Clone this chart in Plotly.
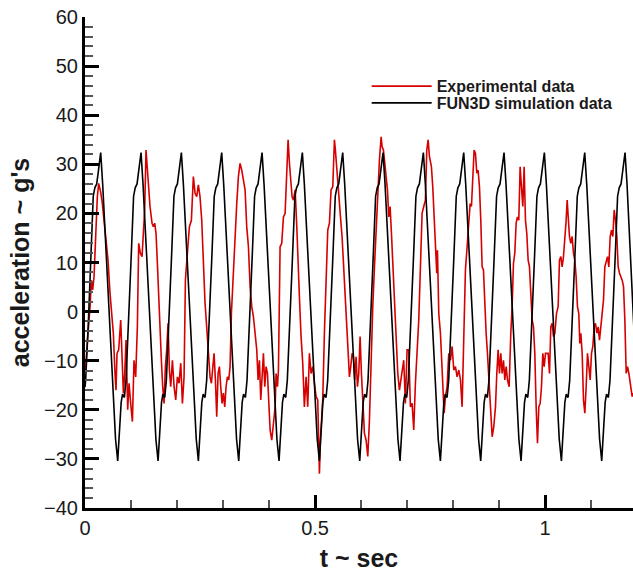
import plotly.graph_objects as go

# experimental accelerometer trace
exp_t = [
    0.0, 0.0014, 0.0065, 0.011, 0.0138, 0.0167, 0.0196, 0.0232, 0.0268, 0.0297,
    0.034, 0.0377, 0.0413, 0.0464, 0.05, 0.0544, 0.058, 0.0616, 0.0652, 0.0674,
    0.0696, 0.0732, 0.0776, 0.0805, 0.0834, 0.0863, 0.0892, 0.0928, 0.0957, 0.0993,
    0.103, 0.1065, 0.1102, 0.1138, 0.1167, 0.1203, 0.124, 0.1268, 0.1297, 0.1326,
    0.1355, 0.1384, 0.1413, 0.1457, 0.1486, 0.1515, 0.1544, 0.1573, 0.1602, 0.1631,
    0.166, 0.1689, 0.1718, 0.1747, 0.1776, 0.1805, 0.1834, 0.1863, 0.19, 0.1936,
    0.1972, 0.2008, 0.2044, 0.2081, 0.2117, 0.2153, 0.2182, 0.2225, 0.2269, 0.2312,
    0.2355, 0.2392, 0.2428, 0.2464, 0.25, 0.2537, 0.2573, 0.2609, 0.2645, 0.2682,
    0.2718, 0.2747, 0.2776, 0.2805, 0.2834, 0.2863, 0.2892, 0.2921, 0.295, 0.2979,
    0.3008, 0.3037, 0.3066, 0.3095, 0.3124, 0.3153, 0.3182, 0.3211, 0.324, 0.327,
    0.3298, 0.3334, 0.337, 0.3407, 0.3443, 0.3479, 0.3515, 0.3552, 0.3588, 0.3624,
    0.366, 0.3697, 0.3733, 0.3762, 0.3791, 0.382, 0.3849, 0.3878, 0.3907, 0.3936,
    0.3965, 0.3994, 0.4023, 0.4059, 0.4095, 0.4132, 0.4153, 0.4183, 0.4204, 0.424,
    0.4276, 0.4313, 0.4349, 0.4385, 0.4414, 0.4443, 0.4472, 0.4501, 0.453, 0.4567,
    0.4603, 0.4623, 0.466, 0.4696, 0.4732, 0.4768, 0.4805, 0.4841, 0.4877, 0.4913,
    0.495, 0.4986, 0.5022, 0.5058, 0.5095, 0.5116, 0.5145, 0.5167, 0.5203, 0.524,
    0.5276, 0.5312, 0.5348, 0.5385, 0.5421, 0.5442, 0.5471, 0.55, 0.5529, 0.5558,
    0.5587, 0.5616, 0.566, 0.5689, 0.5718, 0.5747, 0.5776, 0.5805, 0.5834, 0.5863,
    0.5892, 0.5921, 0.595, 0.5979, 0.6008, 0.6037, 0.6073, 0.6109, 0.6146, 0.6182,
    0.6218, 0.6254, 0.6291, 0.6327, 0.6363, 0.6399, 0.6436, 0.6457, 0.6486, 0.6515,
    0.6544, 0.6573, 0.6602, 0.6631, 0.666, 0.669, 0.6725, 0.6762, 0.6798, 0.6834,
    0.6891, 0.6927, 0.6963, 0.7, 0.7036, 0.7072, 0.7109, 0.7145, 0.7181, 0.7217,
    0.7254, 0.729, 0.7326, 0.7362, 0.7398, 0.7428, 0.7457, 0.7486, 0.7529, 0.7558,
    0.7587, 0.7616, 0.7645, 0.766, 0.7689, 0.7725, 0.7746, 0.7775, 0.7805, 0.7834,
    0.787, 0.7906, 0.7943, 0.7979, 0.8015, 0.8051, 0.8087, 0.8124, 0.816, 0.8196,
    0.8232, 0.8268, 0.8305, 0.8341, 0.837, 0.8399, 0.8428, 0.8457, 0.8486, 0.8515,
    0.8544, 0.8573, 0.8602, 0.8631, 0.866, 0.8689, 0.8718, 0.8747, 0.8776, 0.8812,
    0.8849, 0.8885, 0.8921, 0.895, 0.8979, 0.9008, 0.9037, 0.9066, 0.9095, 0.9124,
    0.9153, 0.9182, 0.9218, 0.9254, 0.9283, 0.9312, 0.9341, 0.937, 0.9399, 0.9428,
    0.9457, 0.9486, 0.9515, 0.9544, 0.9573, 0.9602, 0.9631, 0.966, 0.9689, 0.9718,
    0.9747, 0.9776, 0.9805, 0.9834, 0.9863, 0.9892, 0.9921, 0.995, 0.9979, 1.0008,
    1.0037, 1.0066, 1.0095, 1.0124, 1.0153, 1.0182, 1.0211, 1.0247, 1.0283, 1.0312,
    1.0341, 1.037, 1.0399, 1.0428, 1.0457, 1.0479, 1.05, 1.0529, 1.0558, 1.0587,
    1.0616, 1.0645, 1.0674, 1.0703, 1.0732, 1.0754, 1.0776, 1.0805, 1.0834, 1.0863,
    1.0892, 1.0921, 1.095, 1.0979, 1.1008, 1.1037, 1.1066, 1.1095, 1.1124, 1.1153,
    1.1182, 1.1211, 1.124, 1.1269, 1.1298, 1.1327, 1.1356, 1.1385, 1.1414, 1.1443,
    1.1472, 1.1501, 1.153, 1.1559, 1.1588, 1.1617, 1.1646, 1.1675, 1.1704, 1.1733,
    1.1762, 1.1791, 1.182, 1.1863, 1.1892, 1.1914,
]
exp_acc = [
    -12.0, -11.2, -4.4, 1.0, 6.4, 4.4, 7.1, 17.3, 23.4, 26.1,
    24.4, 22.0, 18.6, 13.9, 10.5, 3.7, 0.3, -4.4, -12.6, -16.0,
    -8.5, -7.8, -1.7, -8.5, -16.6, -12.6, -5.8, -20.0, -14.6, -18.7,
    -22.4, -9.9, -13.3, -3.1, 13.9, 11.9, 11.2, 15.9, 20.7, 32.9,
    28.8, 24.8, 21.4, 18.0, 17.3, 18.0, 15.9, 9.8, 2.4, -3.8,
    -9.9, -15.3, -18.7, -11.2, -7.8, -2.4, -11.9, -15.3, -9.9, -15.3,
    -18.0, -13.3, -14.6, -10.5, -18.7, -13.3, 6.4, 11.9, 17.3, 18.6,
    27.5, 24.1, 23.4, 25.8, 23.4, 18.6, 9.8, 1.7, -3.1, -8.5,
    -13.3, -14.6, -11.9, -8.5, -13.9, -21.4, -12.6, -11.2, -15.3, -18.7,
    -16.6, -19.4, -15.3, -13.3, -13.9, -11.2, -0.4, 5.1, 13.2, 18.6,
    22.0, 27.5, 30.2, 28.8, 26.8, 24.8, 17.3, 13.2, 5.1, 1.0,
    -1.0, -4.4, -7.8, -13.9, -9.9, -18.0, -12.6, -8.5, -15.3, -11.2,
    -12.6, -19.4, -24.1, -26.2, -23.4, -19.4, -12.6, -15.3, -11.9, 13.2,
    13.9, 19.3, 20.0, 30.2, 35.0, 30.2, 26.1, 23.4, 22.7, 24.8,
    17.3, 10.5, 3.0, -5.1, -10.5, -19.4, -13.3, -19.4, -8.5, -12.6,
    -11.2, -14.6, -17.3, -18.0, -33.0, -26.2, -22.1, -18.0, -4.4, 6.4,
    16.6, 18.0, 24.8, 25.4, 35.0, 32.9, 28.8, 26.1, 22.0, 18.6,
    15.3, 10.5, 1.0, -1.7, -7.8, -13.3, -11.2, -8.5, -9.2, -13.9,
    -9.2, -15.3, -12.6, -5.1, -12.6, -18.0, -24.8, -26.2, -29.5, -22.1,
    -8.5, 1.0, 9.1, 16.6, 24.1, 30.9, 35.6, 33.6, 32.9, 30.2,
    28.2, 24.8, 19.3, 21.4, 16.0, 9.1, 3.7, -7.1, -12.6, -16.0,
    -12.6, -9.9, -18.7, -7.8, -7.8, -19.4, -18.7, -24.1, -14.6, -8.5,
    -1.7, 9.1, 20.0, 21.4, 22.7, 32.9, 35.0, 31.6, 29.5, 25.4,
    19.3, 11.9, 7.8, 12.5, -0.4, -4.4, -8.5, -12.6, -20.7, -17.3,
    -15.3, -8.5, -9.9, -7.1, -11.9, -11.2, -13.3, -11.9, -13.9, -19.4,
    -1.7, 8.5, 13.2, 18.6, 22.0, 21.4, 27.5, 32.9, 32.2, 28.2,
    28.8, 25.4, 18.6, 9.1, 8.5, -0.4, -4.4, -8.5, -13.9, -20.0,
    -25.5, -23.4, -19.4, -12.6, -7.8, -12.6, -8.5, -12.6, -9.9, -13.9,
    -11.2, -13.9, -15.3, -4.4, 1.0, 9.8, 11.9, 18.0, 19.3, 18.6,
    29.5, 25.4, 21.4, 29.5, 18.6, 15.9, 10.5, 9.1, 4.4, -1.7,
    -3.1, -8.5, -19.4, -26.8, -19.4, -18.7, -15.3, -8.5, -11.2, -8.5,
    -8.5, -8.5, -12.6, -3.1, -2.4, -5.1, -4.4, -0.4, 1.0, 10.5,
    11.2, 9.1, 11.2, 14.6, 18.6, 22.7, 18.6, 15.3, 13.9, 15.3,
    11.9, 10.5, 7.1, 1.0, -0.4, -6.5, -4.4, -8.5, -18.0, -20.7,
    -15.3, -8.5, -11.2, -13.9, -8.5, -7.1, -3.1, -2.4, -4.4, -3.1,
    -5.8, -3.1, 1.0, 2.4, 9.1, 10.5, 11.2, 9.1, 15.3, 16.6,
    15.3, 20.7, 18.6, 15.3, 9.1, 7.8, 7.1, 6.4, 5.1, -1.7,
    -12.6, -11.2, -12.6, -15.3, -17.3, -16.6,
]

# FUN3D simulation trace (one line per cycle)
sim_t = [
    0.0, 0.0014, 0.0074, 0.0124, 0.0179, 0.0214, 0.0254, 0.0294, 0.0341, 0.0384, 0.0434, 0.0494, 0.0554, 0.0614, 0.0664,
    0.0711, 0.0751, 0.0786, 0.0816, 0.0856, 0.0891, 0.0951, 0.1001, 0.1056, 0.1091, 0.1131, 0.1171, 0.1218, 0.1261, 0.1311, 0.1371, 0.1431, 0.1491, 0.1541,
    0.1588, 0.1628, 0.1663, 0.1693, 0.1733, 0.1768, 0.1828, 0.1878, 0.1933, 0.1968, 0.2008, 0.2048, 0.2095, 0.2138, 0.2188, 0.2248, 0.2308, 0.2368, 0.2418,
    0.2464, 0.2504, 0.2539, 0.2569, 0.2609, 0.2644, 0.2704, 0.2754, 0.2809, 0.2844, 0.2884, 0.2924, 0.2971, 0.3014, 0.3064, 0.3124, 0.3184, 0.3244, 0.3294,
    0.3341, 0.3381, 0.3416, 0.3446, 0.3486, 0.3521, 0.3581, 0.3631, 0.3686, 0.3721, 0.3761, 0.3801, 0.3848, 0.3891, 0.3941, 0.4001, 0.4061, 0.4121, 0.4171,
    0.4217, 0.4257, 0.4292, 0.4322, 0.4362, 0.4397, 0.4457, 0.4507, 0.4562, 0.4597, 0.4637, 0.4677, 0.4724, 0.4767, 0.4817, 0.4877, 0.4937, 0.4997, 0.5047,
    0.5094, 0.5134, 0.5169, 0.5199, 0.5239, 0.5274, 0.5334, 0.5384, 0.5439, 0.5474, 0.5514, 0.5554, 0.5601, 0.5644, 0.5694, 0.5754, 0.5814, 0.5874, 0.5924,
    0.5971, 0.6011, 0.6046, 0.6076, 0.6116, 0.6151, 0.6211, 0.6261, 0.6316, 0.6351, 0.6391, 0.6431, 0.6478, 0.6521, 0.6571, 0.6631, 0.6691, 0.6751, 0.6801,
    0.6847, 0.6887, 0.6922, 0.6952, 0.6992, 0.7027, 0.7087, 0.7137, 0.7192, 0.7227, 0.7267, 0.7307, 0.7354, 0.7397, 0.7447, 0.7507, 0.7567, 0.7627, 0.7677,
    0.7724, 0.7764, 0.7799, 0.7829, 0.7869, 0.7904, 0.7964, 0.8014, 0.8069, 0.8104, 0.8144, 0.8184, 0.8231, 0.8274, 0.8324, 0.8384, 0.8444, 0.8504, 0.8554,
    0.8600, 0.8640, 0.8675, 0.8705, 0.8745, 0.8780, 0.8840, 0.8890, 0.8945, 0.8980, 0.9020, 0.9060, 0.9107, 0.9150, 0.9200, 0.9260, 0.9320, 0.9380, 0.9430,
    0.9477, 0.9517, 0.9552, 0.9582, 0.9622, 0.9657, 0.9717, 0.9767, 0.9822, 0.9857, 0.9897, 0.9937, 0.9984, 1.0027, 1.0077, 1.0137, 1.0197, 1.0257, 1.0307,
    1.0354, 1.0394, 1.0429, 1.0459, 1.0499, 1.0534, 1.0594, 1.0644, 1.0699, 1.0734, 1.0774, 1.0814, 1.0861, 1.0904, 1.0954, 1.1014, 1.1074, 1.1134, 1.1184,
    1.1230, 1.1270, 1.1305, 1.1335, 1.1375, 1.1410, 1.1470, 1.1520, 1.1575, 1.1610, 1.1650, 1.1690, 1.1737, 1.1780, 1.1830, 1.1890, 1.1950,
]
sim_acc = [
    -15.4, -14, -2, 10.5, 23.5, 25.2, 26, 28.8, 32.4, 26, 16.5, 4, -7.5, -18.5, -26,
    -30.4, -23.5, -18.5, -16.8, -17.5, -14, -2, 10.5, 23.5, 25.2, 26, 28.8, 32.4, 26, 16.5, 4, -7.5, -18.5, -26,
    -30.4, -23.5, -18.5, -16.8, -17.5, -14, -2, 10.5, 23.5, 25.2, 26, 28.8, 32.4, 26, 16.5, 4, -7.5, -18.5, -26,
    -30.4, -23.5, -18.5, -16.8, -17.5, -14, -2, 10.5, 23.5, 25.2, 26, 28.8, 32.4, 26, 16.5, 4, -7.5, -18.5, -26,
    -30.4, -23.5, -18.5, -16.8, -17.5, -14, -2, 10.5, 23.5, 25.2, 26, 28.8, 32.4, 26, 16.5, 4, -7.5, -18.5, -26,
    -30.4, -23.5, -18.5, -16.8, -17.5, -14, -2, 10.5, 23.5, 25.2, 26, 28.8, 32.4, 26, 16.5, 4, -7.5, -18.5, -26,
    -30.4, -23.5, -18.5, -16.8, -17.5, -14, -2, 10.5, 23.5, 25.2, 26, 28.8, 32.4, 26, 16.5, 4, -7.5, -18.5, -26,
    -30.4, -23.5, -18.5, -16.8, -17.5, -14, -2, 10.5, 23.5, 25.2, 26, 28.8, 32.4, 26, 16.5, 4, -7.5, -18.5, -26,
    -30.4, -23.5, -18.5, -16.8, -17.5, -14, -2, 10.5, 23.5, 25.2, 26, 28.8, 32.4, 26, 16.5, 4, -7.5, -18.5, -26,
    -30.4, -23.5, -18.5, -16.8, -17.5, -14, -2, 10.5, 23.5, 25.2, 26, 28.8, 32.4, 26, 16.5, 4, -7.5, -18.5, -26,
    -30.4, -23.5, -18.5, -16.8, -17.5, -14, -2, 10.5, 23.5, 25.2, 26, 28.8, 32.4, 26, 16.5, 4, -7.5, -18.5, -26,
    -30.4, -23.5, -18.5, -16.8, -17.5, -14, -2, 10.5, 23.5, 25.2, 26, 28.8, 32.4, 26, 16.5, 4, -7.5, -18.5, -26,
    -30.4, -23.5, -18.5, -16.8, -17.5, -14, -2, 10.5, 23.5, 25.2, 26, 28.8, 32.4, 26, 16.5, 4, -7.5, -18.5, -26,
    -30.4, -23.5, -18.5, -16.8, -17.5, -14, -2, 10.5, 23.5, 25.2, 26, 28.8, 32.4, 26, 16.5, 4, -7.5,
]

# axis ticks
x_ticks = [0, 0.5, 1]
x_tick_text = ["0", "0.5", "1"]
y_ticks = [-40, -30, -20, -10, 0, 10, 20, 30, 40, 50, 60]

fig = go.Figure()
fig.add_trace(go.Scatter(x=exp_t, y=exp_acc, mode="lines", name="Experimental data",
                         line=dict(color="#d60000", width=1.6), legend="legend",
                         showlegend=True))
fig.add_trace(go.Scatter(x=sim_t, y=sim_acc, mode="lines", name="FUN3D simulation data",
                         line=dict(color="black", width=1.6), legend="legend2",
                         showlegend=True))

# two stacked legends so the rows sit close together like the original
legend_style = dict(x=0.514, xanchor="left", yanchor="middle", itemwidth=60,
                    bgcolor="rgba(0,0,0,0)", font=dict(size=16, weight="bold"))

fig.update_layout(
    width=633, height=573,
    showlegend=True,
    margin=dict(l=85, r=0, t=17, b=65),
    plot_bgcolor="white", paper_bgcolor="white",
    font=dict(family="Arial, Liberation Sans, sans-serif", color="#1a1a1a"),
    legend=dict(y=0.859, **legend_style),
    legend2=dict(y=0.825, **legend_style),
    xaxis=dict(
        range=[0, 1.191], tickvals=x_ticks, ticktext=x_tick_text, automargin=False,
        ticks="inside", ticklen=13, tickwidth=3, tickcolor="black",
        showline=True, linewidth=3, linecolor="black",
        showgrid=False, zeroline=False, tickfont=dict(size=20),
        minor=dict(ticks="inside", ticklen=8, tickwidth=1.5, tickcolor="#555",
                   tickmode="linear", tick0=0, dtick=0.1, showgrid=False),
        title=dict(text="<b>t ~ sec</b>", font=dict(size=25), standoff=12),
    ),
    yaxis=dict(
        range=[-40, 60], tickvals=y_ticks, automargin=False,
        ticks="inside", ticklen=14, tickwidth=3, tickcolor="black",
        showline=True, linewidth=3, linecolor="black",
        showgrid=False, zeroline=False, tickfont=dict(size=20),
        minor=dict(ticks="inside", ticklen=8, tickwidth=1.5, tickcolor="#555",
                   tickmode="linear", tick0=0, dtick=2, showgrid=False),
        title=dict(text="<b>acceleration ~ g's</b>", font=dict(size=25), standoff=8),
    ),
)

# drop the page's default 8px body margin so the figure fills the window
fig.write_html("out.html", config={"displayModeBar": False},
               post_script="document.body.style.margin='0';")
